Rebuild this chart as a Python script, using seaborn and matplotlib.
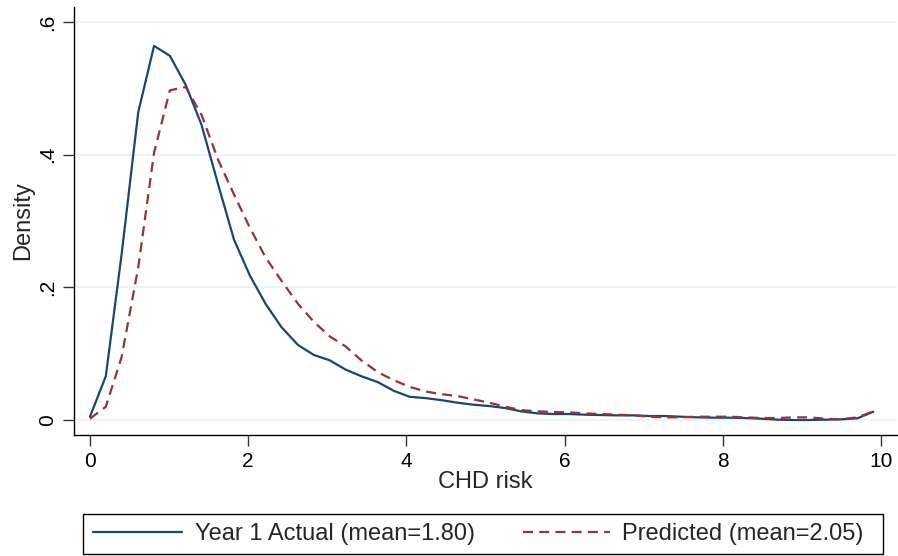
import matplotlib
matplotlib.use("Agg")
import matplotlib.pyplot as plt
from matplotlib.patches import Rectangle
import seaborn as sns
import pandas as pd

# Evaluation points (CHD risk)
x_points = [0.00, 0.20, 0.40, 0.61, 0.81, 1.01, 1.21, 1.41, 1.62, 1.82,
            2.02, 2.22, 2.42, 2.63, 2.83, 3.03, 3.23, 3.43, 3.64, 3.84,
            4.04, 4.24, 4.44, 4.65, 4.85, 5.05, 5.25, 5.45, 5.66, 5.86,
            6.06, 6.26, 6.46, 6.67, 6.87, 7.07, 7.27, 7.47, 7.68, 7.88,
            8.08, 8.28, 8.48, 8.69, 8.89, 9.09, 9.29, 9.49, 9.70, 9.90]

actual_density = [0.005, 0.066, 0.250, 0.464, 0.564, 0.549, 0.505, 0.445, 0.355, 0.272,
                  0.218, 0.175, 0.140, 0.113, 0.098, 0.090, 0.076, 0.066, 0.057, 0.044,
                  0.035, 0.033, 0.030, 0.026, 0.023, 0.021, 0.018, 0.013, 0.010, 0.009,
                  0.009, 0.008, 0.0075, 0.007, 0.007, 0.006, 0.006, 0.005, 0.004, 0.0035,
                  0.0035, 0.003, 0.002, 0.0005, 0.000, 0.000, 0.0005, 0.001, 0.0025, 0.0125]

predicted_density = [0.002, 0.020, 0.095, 0.230, 0.403, 0.497, 0.502, 0.460, 0.392, 0.340,
                     0.290, 0.245, 0.210, 0.175, 0.148, 0.126, 0.111, 0.090, 0.072, 0.060,
                     0.050, 0.043, 0.039, 0.036, 0.031, 0.026, 0.020, 0.015, 0.013, 0.012,
                     0.0115, 0.010, 0.009, 0.008, 0.007, 0.005, 0.004, 0.004, 0.005, 0.005,
                     0.005, 0.004, 0.003, 0.003, 0.004, 0.004, 0.002, 0.001, 0.004, 0.013]

series_labels = ["Year 1 Actual (mean=1.80)", "Predicted (mean=2.05)"]
x_ticks = [0, 2, 4, 6, 8, 10]
y_ticks = [0, 0.2, 0.4, 0.6]
y_tick_labels = ["0", ".2", ".4", ".6"]

sns.set_theme(style="white")
plt.rcParams['font.family'] = ['Liberation Sans', 'DejaVu Sans']

W, H = 898, 556
fig = plt.figure(figsize=(W / 100, H / 100), dpi=100)
ax = fig.add_axes([74 / W, (H - 435) / H, (897 - 74) / W, (435 - 7) / H])

df = pd.DataFrame({"x": x_points, "actual": actual_density, "pred": predicted_density})

blue = "#1a476f"
red = "#90353b"

sns.lineplot(data=df, x="x", y="actual", ax=ax, color=blue, linewidth=1.6,
             label=series_labels[0], legend=False)
sns.lineplot(data=df, x="x", y="pred", ax=ax, color=red, linewidth=1.6,
             label=series_labels[1], legend=False)
ax.lines[1].set_dashes((4.5, 2.8))

ax.set_xlim(-0.202, 10.2)
ax.set_ylim(-0.0226, 0.6226)
ax.set_xticks(x_ticks)
ax.set_xticklabels([str(t) for t in x_ticks])
ax.set_yticks(y_ticks)
ax.set_yticklabels(y_tick_labels, rotation=90, va="center")

for y in y_ticks:
    ax.axhline(y, color="#eaf2f3", linewidth=1.3, zorder=0)

for side in ["top", "right"]:
    ax.spines[side].set_visible(False)
for side in ["left", "bottom"]:
    ax.spines[side].set_color("black")
    ax.spines[side].set_linewidth(1.0)

ax.tick_params(axis="both", which="major", direction="out", length=8, width=1,
               color="#333333", labelsize=15, labelcolor="black", pad=4,
               left=True, bottom=True)
ax.set_xlabel("CHD risk", fontsize=17)
ax.set_ylabel("Density", fontsize=17)
ax.xaxis.set_label_coords(0.5, -(471 - 435) / 428)
ax.yaxis.set_label_coords(-(74 - 34) / 823, 0.5)

# legend box
fig.patches.append(Rectangle((83 / W, (H - 554) / H), 800 / W, 40 / H,
                             transform=fig.transFigure, facecolor="white",
                             edgecolor="black", linewidth=1.0, zorder=1))

handles, labels = ax.get_legend_handles_labels()
fig.legend([handles[0]], [labels[0]], loc="center left",
           bbox_to_anchor=(93 / W, (H - 534) / H),
           frameon=False, fontsize=17,
           handlelength=3.75, handletextpad=0.55, borderaxespad=0, borderpad=0)
fig.legend([handles[1]], [labels[1]], loc="center left",
           bbox_to_anchor=(523 / W, (H - 534) / H),
           frameon=False, fontsize=17,
           handlelength=3.7, handletextpad=0.5, borderaxespad=0, borderpad=0)

fig.savefig("out.png", dpi=100, facecolor="white")
